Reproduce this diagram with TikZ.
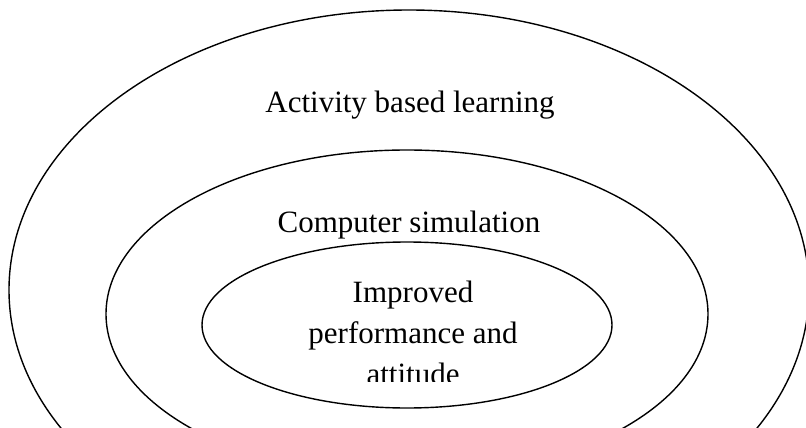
\documentclass[tikz,border=0pt]{standalone}
\usepackage{fontspec}
\setmainfont{Liberation Serif}
\usetikzlibrary{shapes.geometric}

\tikzset{
  ring/.style={draw=black, line width=1.4pt, ellipse, inner sep=0pt},
  ringlabel/.style={font=\fontsize{31}{41}\selectfont, inner sep=0pt, anchor=base},
}

\begin{document}
\begin{tikzpicture}[x=1pt, y=-1pt]
  \useasboundingbox (0,0) rectangle (806,428);
  \clip (0,0) rectangle (806,428);

  % nested circles of the model
  \node[ring, minimum width=800pt, minimum height=560pt] (outer) at (409,290) {};
  \node[ring, minimum width=602pt, minimum height=328pt] (middle) at (407,314) {};
  \node[ring, minimum width=410pt, minimum height=166pt] (inner) at (407,325) {};

  % labels of the rings
  \node[ringlabel] (outerlabel) at (410,112) {Activity based learning};
  \node[ringlabel] (middlelabel) at (409,232) {Computer simulation};

  % the centre text sits in a box that cuts its last line
  \begin{scope}
    \clip (200,250) rectangle (620,381);
    \node[ringlabel, align=center, anchor=north] (innerlabel) at (413,281)
      {Improved\\performance and\\attitude};
  \end{scope}
\end{tikzpicture}
\end{document}
